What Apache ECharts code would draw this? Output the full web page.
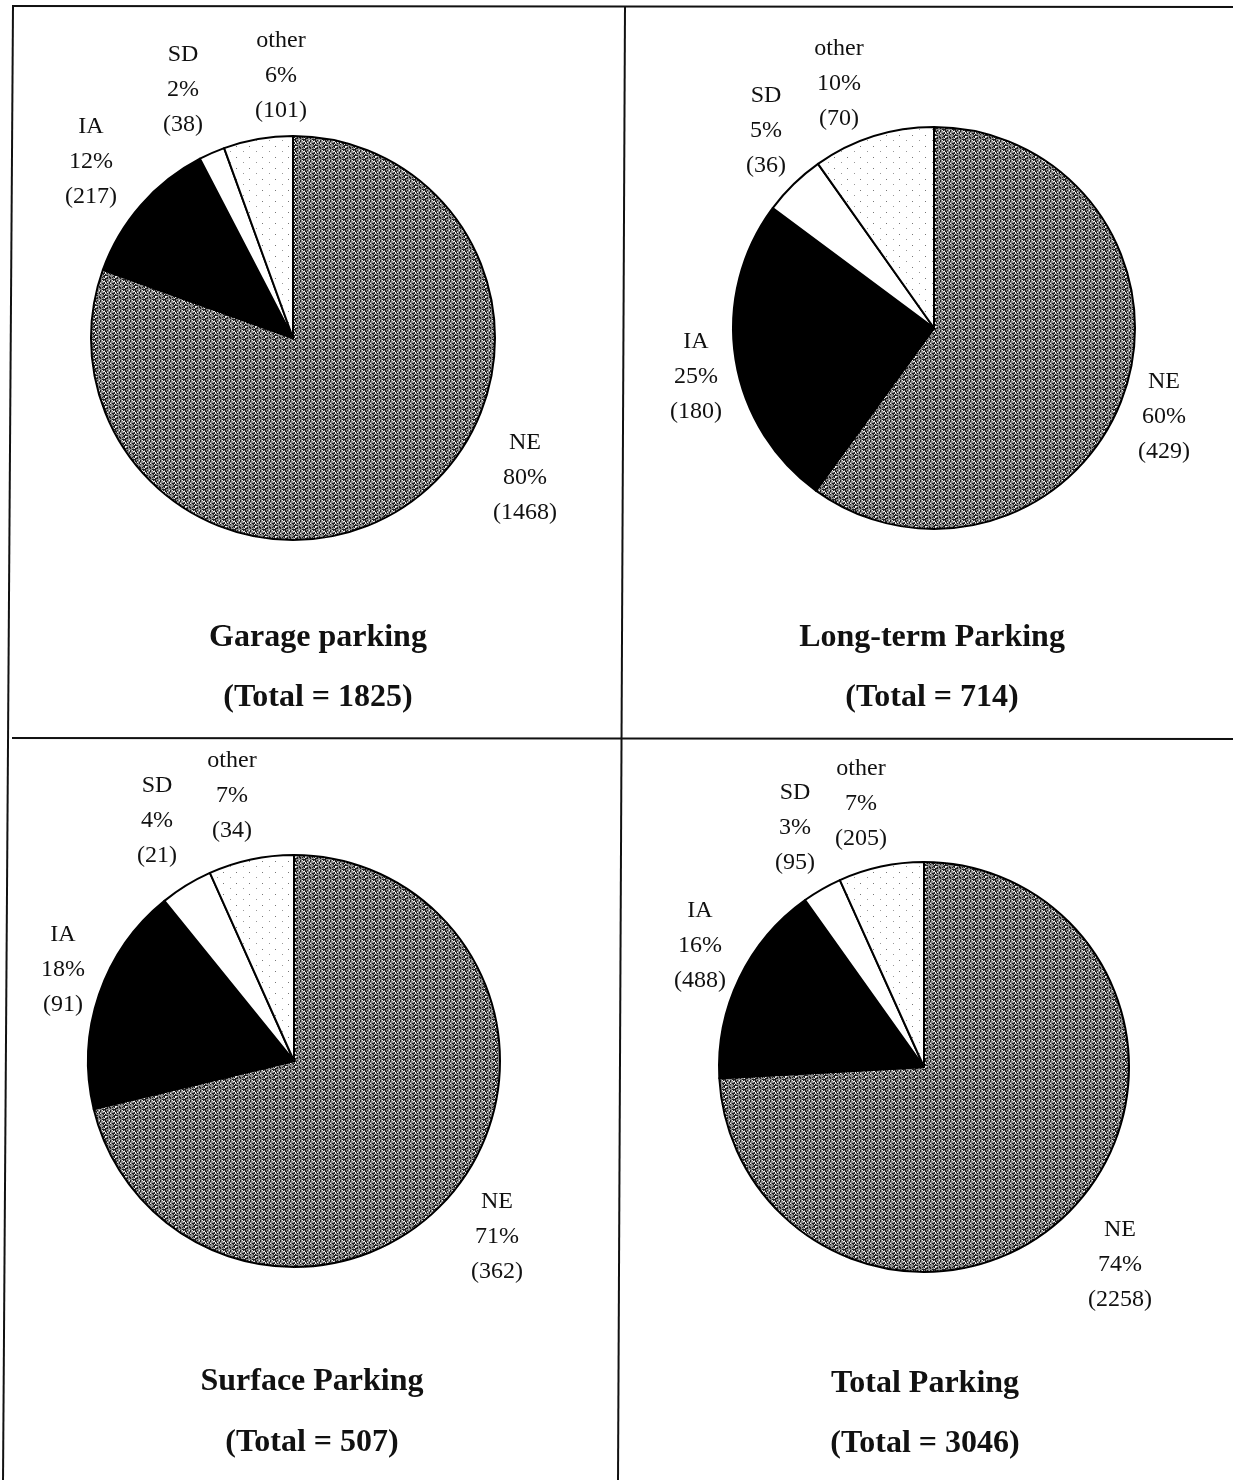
<!DOCTYPE html>
<html>
<head>
<meta charset="utf-8">
<style>
  html, body { margin: 0; padding: 0; background: #fff; }
  #chart { width: 1233px; height: 1480px; }
</style>
<script src="https://cdn.jsdelivr.net/npm/echarts@6/dist/echarts.min.js"></script>
</head>
<body>
<div id="chart"></div>
<script>
// Parking counts by state of registration
const categories = ['NE', 'IA', 'SD', 'other'];
const garageValues = [1468, 217, 38, 101];
const longTermValues = [429, 180, 36, 70];
const surfaceValues = [362, 91, 21, 34];
const totalValues = [2258, 488, 95, 205];
const panelTitles = ['Garage parking', 'Long-term Parking', 'Surface Parking', 'Total Parking'];
const panelTotals = [1825, 714, 507, 3046];

// Fill textures: grey stipple for NE, sparse dots for "other"
function makePattern(w, h, bg, dots) {
  const c = document.createElement('canvas');
  c.width = w; c.height = h;
  const g = c.getContext('2d');
  g.fillStyle = bg; g.fillRect(0, 0, w, h);
  dots.forEach(d => { g.fillStyle = d[2]; g.fillRect(d[0], d[1], 1, 1); });
  return c;
}
const greyDots = [];
for (let y = 0; y < 10; y++) {
  for (let x = 0; x < 10; x++) {
    const v = (x * 7 + y * 13 + x * y * 5 + ((x ^ y) * 3)) % 7;
    if (v < 3) greyDots.push([x, y, '#1e1e1e']);
    else if (v > 5) greyDots.push([x, y, '#f0f0f0']);
  }
}
const greyTexture = makePattern(10, 10, '#8c8c8c', greyDots);
const dotTexture = makePattern(13, 11, '#ffffff', [[2, 3, '#777'], [9, 8, '#999']]);

const sliceColors = [
  { image: greyTexture, repeat: 'repeat' },
  '#000000',
  '#ffffff',
  { image: dotTexture, repeat: 'repeat' }
];

// Pie placement and label anchors for each panel
const panels = [
  { values: garageValues, center: [293, 338], r: 202,
    labels: [[525, 478], [91, 162], [183, 90], [281, 76]] },
  { values: longTermValues, center: [934, 328], r: 201,
    labels: [[1164, 417], [696, 377], [766, 131], [839, 84]] },
  { values: surfaceValues, center: [294, 1061], r: 206,
    labels: [[497, 1237], [63, 970], [157, 821], [232, 796]] },
  { values: totalValues, center: [924, 1067], r: 205,
    labels: [[1120, 1265], [700, 946], [795, 828], [861, 804]] }
];

const serif = '"Liberation Serif", "Times New Roman", serif';

const series = panels.map(p => ({
  type: 'pie',
  center: p.center,
  radius: p.r,
  startAngle: 90,
  clockwise: true,
  percentPrecision: 0,
  silent: true,
  animation: false,
  itemStyle: { borderColor: '#000', borderWidth: 2 },
  label: {
    show: true,
    position: 'inside',
    formatter: '{b}\n{d}%\n({c})',
    fontFamily: serif,
    fontSize: 24,
    lineHeight: 35,
    color: '#111',
    align: 'center',
    overflow: 'none'
  },
  labelLine: { show: false },
  labelLayout: params => {
    const pos = p.labels[params.dataIndex];
    return { x: pos[0], y: pos[1], align: 'center', verticalAlign: 'middle' };
  },
  data: categories.map((name, i) => ({
    name, value: p.values[i], itemStyle: { color: sliceColors[i] }
  }))
}));

// Panel captions: [x, title y, total y]
const captionPos = [[318, 638, 698], [932, 638, 698], [312, 1382, 1443], [925, 1384, 1444]];
const captions = [];
panelTitles.forEach((t, i) => {
  const c = captionPos[i];
  [[t, c[1]], ['(Total = ' + panelTotals[i] + ')', c[2]]].forEach(([text, y]) => {
    captions.push({
      type: 'text', silent: true, x: c[0], y,
      style: {
        text, align: 'center', verticalAlign: 'middle',
        fontFamily: serif, fontWeight: 'bold', fontSize: 32, fill: '#111'
      }
    });
  });
});

// Table frame lines
const frame = [
  [12, 6, 1233, 7],
  [13, 6, 3, 1480],
  [625, 6, 618, 1480],
  [12, 738, 1233, 739]
].map(l => ({
  type: 'line', silent: true,
  shape: { x1: l[0], y1: l[1], x2: l[2], y2: l[3] },
  style: { stroke: '#111', lineWidth: 2 }
}));

const chart = echarts.init(document.getElementById('chart'), null, { renderer: 'canvas' });
chart.setOption({
  backgroundColor: '#fff',
  animation: false,
  graphic: frame.concat(captions),
  series
});
</script>
</body>
</html>
